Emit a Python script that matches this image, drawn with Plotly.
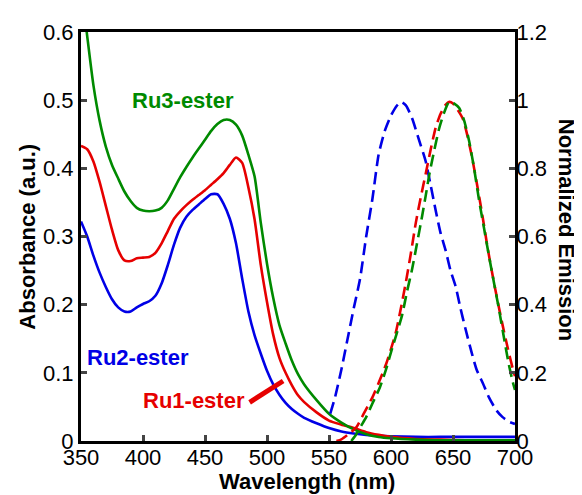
import plotly.graph_objects as go

# ---------------- data ----------------
wl_abs = [350, 355, 360, 365, 370, 375, 380, 385, 390, 395, 400, 405, 410, 415, 420,
          425, 430, 435, 440, 445, 450, 455, 460, 465, 470, 475, 480, 485, 490, 495,
          500, 505, 510, 515, 520, 525, 530, 540, 550, 560, 570, 580, 590, 600, 620,
          640, 660, 680, 700]

abs_ru3 = [0.67, 0.594, 0.522, 0.47, 0.432, 0.405, 0.385, 0.366, 0.352, 0.342, 0.338, 0.337,
           0.338, 0.342, 0.353, 0.37, 0.387, 0.402, 0.416, 0.429, 0.442, 0.455, 0.465,
           0.471, 0.471, 0.464, 0.448, 0.42, 0.388, 0.32, 0.26, 0.21, 0.17, 0.143, 0.118,
           0.098, 0.083, 0.06, 0.04, 0.027, 0.017, 0.01, 0.006, 0.004, 0.002, 0.001,
           0.001, 0.001, 0.001]

abs_ru1 = [0.433, 0.428, 0.41, 0.38, 0.345, 0.31, 0.28, 0.265, 0.264, 0.268, 0.269, 0.27,
           0.276, 0.29, 0.308, 0.326, 0.337, 0.346, 0.354, 0.361, 0.368, 0.376, 0.384,
           0.393, 0.405, 0.416, 0.408, 0.372, 0.325, 0.258, 0.204, 0.156, 0.122, 0.1,
           0.082, 0.067, 0.057, 0.042, 0.03, 0.024, 0.019, 0.013, 0.009, 0.006, 0.003,
           0.002, 0.001, 0.001, 0.001]

abs_ru2 = [0.322, 0.3, 0.272, 0.247, 0.226, 0.208, 0.196, 0.19, 0.19, 0.196, 0.201, 0.205,
           0.213, 0.231, 0.258, 0.288, 0.313, 0.329, 0.339, 0.347, 0.355, 0.362, 0.362,
           0.348, 0.326, 0.29, 0.238, 0.19, 0.155, 0.128, 0.103, 0.083, 0.068, 0.056,
           0.047, 0.04, 0.034, 0.026, 0.019, 0.014, 0.011, 0.009, 0.008, 0.007, 0.006,
           0.006, 0.006, 0.006, 0.006]

wl_em_ru2 = [551, 555, 560, 565, 570, 575, 580, 585, 590, 595, 600, 605, 608, 612, 617,
             622, 628, 632, 636, 640, 644, 648, 652, 656, 660, 665, 669, 674, 679, 685,
             690, 695, 700]
em_ru2 = [0.08, 0.13, 0.21, 0.3, 0.39, 0.475, 0.6, 0.71, 0.84, 0.91, 0.955, 0.985, 0.995,
          0.985, 0.947, 0.89, 0.82, 0.75, 0.677, 0.61, 0.56, 0.5, 0.455, 0.39, 0.33, 0.26,
          0.21, 0.17, 0.128, 0.09, 0.07, 0.057, 0.05]

wl_em_ru1 = [556, 560, 565, 572, 578, 585, 590, 596, 600, 604, 608, 612, 616, 620, 624,
             628, 632, 636, 640, 644, 647, 650, 654, 658, 662, 666, 670, 674, 678, 682,
             686, 690, 694, 698, 700]
em_ru1 = [0.0, 0.005, 0.018, 0.04, 0.08, 0.128, 0.17, 0.225, 0.27, 0.32, 0.39, 0.466, 0.55,
          0.64, 0.715, 0.784, 0.855, 0.919, 0.96, 0.986, 0.995, 0.99, 0.97, 0.945, 0.89,
          0.82, 0.74, 0.655, 0.565, 0.485, 0.41, 0.34, 0.275, 0.215, 0.19]

wl_em_ru3 = [568, 572, 576, 580, 585, 591, 596, 601, 605, 609, 613, 617, 621, 625, 628,
             631, 635, 639, 643, 647, 651, 655, 659, 663, 667, 671, 675, 679, 683, 687,
             691, 695, 698, 700]
em_ru3 = [0.0, 0.02, 0.045, 0.07, 0.11, 0.157, 0.21, 0.273, 0.32, 0.37, 0.44, 0.504, 0.58,
          0.658, 0.72, 0.784, 0.855, 0.919, 0.965, 0.996, 0.99, 0.977, 0.94, 0.88, 0.8,
          0.707, 0.625, 0.543, 0.465, 0.388, 0.305, 0.225, 0.176, 0.15]

x_ticks = [350, 400, 450, 500, 550, 600, 650, 700]
y_ticks = [0, 0.1, 0.2, 0.3, 0.4, 0.5, 0.6]
y2_ticks = [0, 0.2, 0.4, 0.6, 0.8, 1, 1.2]

GREEN = "#008a00"
RED = "#e60000"
BLUE = "#0000e6"
FONT = "Liberation Sans, Arial, sans-serif"
FS = 22

fig = go.Figure()

for y, c in [(abs_ru2, BLUE), (abs_ru1, RED), (abs_ru3, GREEN)]:
    fig.add_trace(go.Scatter(x=wl_abs, y=y, mode="lines",
                             line=dict(color=c, width=2.6, shape="spline", smoothing=0.6),
                             showlegend=False))

for x, y, c in [(wl_em_ru2, em_ru2, BLUE), (wl_em_ru1, em_ru1, RED), (wl_em_ru3, em_ru3, GREEN)]:
    fig.add_trace(go.Scatter(x=x, y=y, mode="lines", yaxis="y2",
                             line=dict(color=c, width=2.6, dash="12px,6px", shape="spline",
                                       smoothing=0.6),
                             showlegend=False))

# page body has an 8px margin; figure is sized to fit inside the 582x495 window
fig.update_layout(
    width=574, height=487,
    margin=dict(l=73, r=67, t=18, b=54),
    paper_bgcolor="white", plot_bgcolor="white",
    font=dict(family=FONT, size=FS, color="black"),
    xaxis=dict(range=[350, 700], tickvals=x_ticks, ticks="inside", ticklen=6, tickwidth=2.5,
               showline=True, linewidth=3, linecolor="black", mirror=True,
               showgrid=False, zeroline=False, tickfont=dict(size=FS),
               ticklabelstandoff=-5),
    yaxis=dict(range=[0, 0.6], tickvals=y_ticks, ticks="inside", ticklen=6, tickwidth=2.5,
               showline=True, linewidth=3, linecolor="black",
               showgrid=False, zeroline=False, tickfont=dict(size=FS)),
    yaxis2=dict(range=[0, 1.2], tickvals=y2_ticks, ticks="inside", ticklen=6, tickwidth=2.5,
                overlaying="y", side="right",
                showline=True, linewidth=3, linecolor="black",
                showgrid=False, zeroline=False, tickfont=dict(size=FS),
                ticklabelstandoff=-6),
)

fig.add_annotation(text="<b>Absorbance (a.u.)</b>", xref="paper", yref="paper",
                   x=-0.124, y=0.5, textangle=-90, showarrow=False,
                   font=dict(size=FS, family=FONT), xanchor="center", yanchor="middle")
fig.add_annotation(text="<b>Normalized Emission</b>", xref="paper", yref="paper",
                   x=1.118, y=0.516, textangle=90, showarrow=False,
                   font=dict(size=FS, family=FONT), xanchor="center", yanchor="middle")
fig.add_annotation(text="<b>Wavelength (nm)</b>", xref="paper", yref="paper",
                   x=0.52, y=-0.098, showarrow=False,
                   font=dict(size=FS, family=FONT), xanchor="center", yanchor="middle")

fig.add_annotation(text="<b>Ru3-ester</b>", x=432, y=0.499, showarrow=False,
                   font=dict(size=FS, family=FONT, color=GREEN), xanchor="center", yanchor="middle")
fig.add_annotation(text="<b>Ru2-ester</b>", x=353, y=0.123, showarrow=False,
                   font=dict(size=FS, family=FONT, color=BLUE), xanchor="left", yanchor="middle")
fig.add_annotation(text="<b>Ru1-ester</b>", x=483.6, y=0.059, showarrow=False,
                   font=dict(size=FS, family=FONT, color=RED), xanchor="right", yanchor="middle")
fig.add_shape(type="line", x0=486, y0=0.0568, x1=513, y1=0.088, xref="x", yref="y",
              line=dict(color=RED, width=5))

fig.write_html("out.html")
